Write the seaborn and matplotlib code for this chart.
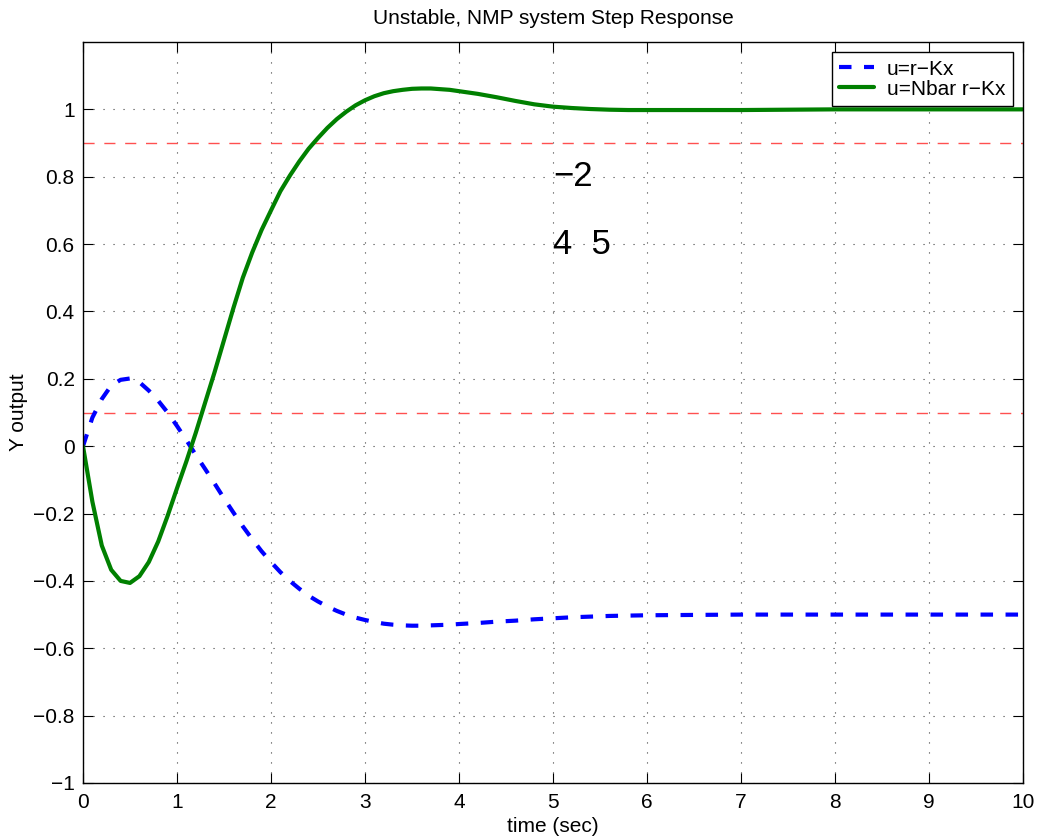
import numpy as np
import pandas as pd
import seaborn as sns
import matplotlib
matplotlib.use("Agg")
import matplotlib.pyplot as plt

# ---- data ----
time_s = [0.0, 0.1, 0.2, 0.3, 0.4, 0.5, 0.6, 0.7, 0.8, 0.9,
          1.0, 1.1, 1.2, 1.3, 1.4, 1.5, 1.6, 1.7, 1.8, 1.9,
          2.0, 2.1, 2.2, 2.3, 2.4, 2.5, 2.6, 2.7, 2.8, 2.9,
          3.0, 3.1, 3.2, 3.3, 3.4, 3.5, 3.6, 3.7, 3.8, 3.9,
          4.0, 4.2, 4.4, 4.6, 4.8, 5.0, 5.2, 5.4, 5.6, 5.8,
          6.0, 6.5, 7.0, 7.5, 8.0, 8.5, 9.0, 9.5, 10.0]

y_rKx = [0.0, 0.085, 0.14, 0.18, 0.197, 0.201, 0.19, 0.165, 0.135, 0.10,
         0.06, 0.018, -0.026, -0.068, -0.111, -0.155, -0.197, -0.238, -0.276, -0.312,
         -0.344, -0.374, -0.40, -0.423, -0.444, -0.461, -0.476, -0.489, -0.500, -0.509,
         -0.516, -0.522, -0.527, -0.530, -0.532, -0.533, -0.533, -0.532, -0.531, -0.530,
         -0.528, -0.525, -0.521, -0.518, -0.514, -0.511, -0.508, -0.506, -0.504, -0.503,
         -0.502, -0.501, -0.500, -0.500, -0.500, -0.500, -0.500, -0.500, -0.500]

y_Nbar = [0.0, -0.165, -0.295, -0.367, -0.400, -0.406, -0.386, -0.344, -0.283, -0.207,
          -0.125, -0.045, 0.04, 0.13, 0.22, 0.315, 0.41, 0.50, 0.575, 0.642,
          0.70, 0.757, 0.803, 0.845, 0.883, 0.915, 0.945, 0.971, 0.993, 1.012,
          1.027, 1.039, 1.048, 1.054, 1.058, 1.061, 1.062, 1.062, 1.060, 1.058,
          1.054, 1.046, 1.036, 1.025, 1.015, 1.008, 1.004, 1.001, 0.999, 0.998,
          0.998, 0.998, 0.998, 0.999, 1.0, 1.0, 1.0, 1.0, 1.0]

ref_levels = [0.9, 0.1]
series_labels = ["u=r\u2212Kx", "u=Nbar r\u2212Kx"]
x_ticks = [0, 1, 2, 3, 4, 5, 6, 7, 8, 9, 10]
y_ticks = [-1.0, -0.8, -0.6, -0.4, -0.2, 0.0, 0.2, 0.4, 0.6, 0.8, 1.0]
y_tick_labels = ["\u22121", "\u22120.8", "\u22120.6", "\u22120.4", "\u22120.2", "0",
                 "0.2", "0.4", "0.6", "0.8", "1"]
annot_texts = ["\u22122", "4  5"]
annot_x = [5.0, 5.0]
annot_y = [0.8, 0.6]

df = pd.DataFrame({"t": time_s, "a": y_rKx, "b": y_Nbar})

sns.set_theme(style="white")
plt.rcParams["font.family"] = ["Liberation Sans", "DejaVu Sans"]
plt.rcParams["text.color"] = "black"
plt.rcParams["axes.labelcolor"] = "black"
plt.rcParams["xtick.color"] = "black"
plt.rcParams["ytick.color"] = "black"

FS = 15

fig = plt.figure(figsize=(10.38, 8.39), dpi=100)
ax = fig.add_axes([83 / 1038, (839 - 783) / 839, 940 / 1038, 741 / 839])

sns.lineplot(data=df, x="t", y="a", ax=ax, color="#0000ff", lw=3.0,
             linestyle=(0, (3, 3)), label=series_labels[0])
sns.lineplot(data=df, x="t", y="b", ax=ax, color="#008000", lw=3.0,
             label=series_labels[1])

for lvl in ref_levels:
    ax.axhline(lvl, color="#ff5050", lw=1.0, linestyle=(0, (8, 7)), zorder=1.5)

for txt, tx, ty in zip(annot_texts, annot_x, annot_y):
    ax.text(tx, ty, txt, fontsize=25, ha="left", va="center", color="black")

ax.set_xlim(0, 10)
ax.set_ylim(-1, 1.2)
ax.set_xticks(x_ticks)
ax.set_xticklabels([str(v) for v in x_ticks])
ax.set_yticks(y_ticks)
ax.set_yticklabels(y_tick_labels)
ax.tick_params(direction="in", length=7, width=0.8, labelsize=FS, colors="black",
               labelcolor="black",
               top=True, right=True, bottom=True, left=True)
ax.tick_params(axis="x", pad=7)
ax.tick_params(axis="y", pad=6)
ax.grid(True, color="0.25", linestyle=(0, (1, 8)), lw=0.8)
for sp in ax.spines.values():
    sp.set_visible(True)
    sp.set_color("black")
    sp.set_linewidth(1.0)

ax.set_xlabel("time (sec)", fontsize=FS, labelpad=4, color="black")
ax.set_ylabel("Y output", fontsize=FS, labelpad=4, color="black")
ax.set_title("Unstable, NMP system Step Response", fontsize=FS, pad=13, color="black")

leg = ax.legend(loc="upper right", fontsize=FS, frameon=True, fancybox=False,
                edgecolor="black", framealpha=1.0, handlelength=1.7,
                handletextpad=0.6, borderaxespad=0.5, borderpad=0.35,
                labelspacing=0.05)
leg.get_frame().set_linewidth(1.0)
for t in leg.get_texts():
    t.set_color("black")

fig.savefig("out.png", dpi=100)
